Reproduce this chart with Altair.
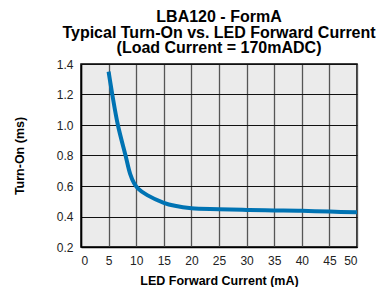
import altair as alt
import pandas as pd

current_ma = [5, 5.67, 6.68, 8.07, 8.9, 9.6, 10.3, 12, 15, 17, 20, 25, 30, 35, 40, 45, 50]
turn_on_ms = [1.35, 1.2, 1.0, 0.8, 0.68, 0.62, 0.585, 0.54, 0.49, 0.47, 0.454, 0.448, 0.443, 0.44, 0.437, 0.432, 0.428]

x_ticks = [0, 5, 10, 15, 20, 25, 30, 35, 40, 45, 50]
y_ticks = [0.2, 0.4, 0.6, 0.8, 1.0, 1.2, 1.4]

df = pd.DataFrame({"x": current_ma, "y": turn_on_ms})

chart = alt.Chart(df).mark_line(
    color="#0073b3", strokeWidth=4, interpolate="catmull-rom"
).encode(
    x=alt.X("x:Q", scale=alt.Scale(domain=[0, 50], nice=False),
            axis=alt.Axis(values=x_ticks, title="LED Forward Current (mA)",
                          gridColor="#555555", gridWidth=1.3)),
    y=alt.Y("y:Q", scale=alt.Scale(domain=[0.2, 1.4], nice=False, zero=False),
            axis=alt.Axis(values=y_ticks, format=".1f", title="Turn-On (ms)",
                          gridColor="#111111", gridWidth=1)),
).properties(
    width=276, height=183,
    autosize=alt.AutoSizeParams(type="none"),
    padding={"left": 73, "top": 56, "right": 20, "bottom": 40},
    title=alt.TitleParams(
        ["LBA120 - FormA", "Typical Turn-On vs. LED Forward Current", "(Load Current = 170mADC)"],
        fontSize=16, font="Liberation Sans", fontWeight="bold", color="black",
        lineHeight=15.5, anchor="middle", offset=2,
    ),
).configure_view(
    fill="#ebebeb", stroke="black", strokeWidth=1.5
).configure_axis(
    labelFont="Liberation Sans", labelFontSize=12, labelColor="#222222",
    titleFont="Liberation Sans", titleFontSize=12.5, titleFontWeight="bold", titleColor="black",
    domainColor="black", domainWidth=1.5, ticks=False, labelPadding=8,
    grid=True,
).configure_axisX(
    titlePadding=8
).configure_axisY(
    titlePadding=30
)

chart.save("out.html", embed_options={"renderer": "svg", "actions": False})
